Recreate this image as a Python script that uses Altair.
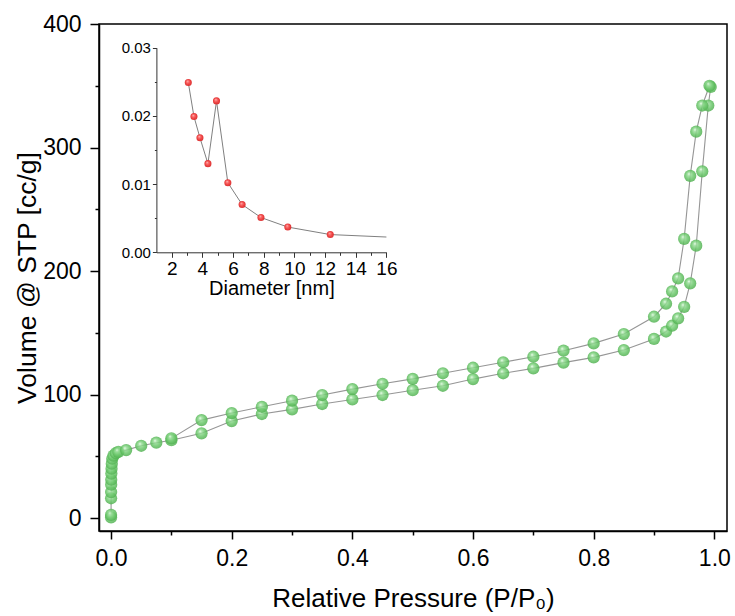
import altair as alt
import pandas as pd

# ---- Isotherm data (relative pressure P/P0, volume cc/g) ----
ads_p = [0.00001, 0.00002, 0.00005, 0.0001, 0.0002, 0.0003, 0.0005, 0.0008, 0.0012, 0.002,
         0.004, 0.008, 0.012, 0.025, 0.05, 0.075, 0.10, 0.15, 0.20, 0.25, 0.30, 0.35, 0.40,
         0.45, 0.50, 0.55, 0.60, 0.65, 0.70, 0.75, 0.80, 0.85, 0.90, 0.92, 0.93, 0.94, 0.95,
         0.96, 0.97, 0.98, 0.99, 0.994]
ads_v = [0.5, 2.5, 16, 21, 27, 31, 36, 40, 44, 48,
         50.5, 52.5, 53.5, 55, 58.5, 61, 63, 68.6, 78.5, 84.2, 88, 92.3, 96,
         99.6, 103.5, 107.1, 112.5, 117.2, 121.2, 125.8, 130.1, 136, 145, 151, 155.7, 161.7, 171,
         190, 220.5, 280.7, 334, 349]

des_p = [0.992, 0.98, 0.97, 0.96, 0.95, 0.94, 0.93, 0.92, 0.90, 0.85, 0.80, 0.75, 0.70,
         0.65, 0.60, 0.55, 0.50, 0.45, 0.40, 0.35, 0.30, 0.25, 0.20, 0.15, 0.10]
des_v = [350, 334, 312.8, 277, 226, 194, 183.5, 173.5, 163, 149, 141.4, 135.5, 130.6,
         126.1, 121.7, 117.2, 112.7, 108.7, 104.4, 99.6, 95, 90.1, 85, 79.3, 64.5]

# ---- Pore size distribution (inset) ----
psd_d = [3.08, 3.45, 3.84, 4.36, 4.92, 5.66, 6.59, 7.82, 9.57, 12.34]
psd_dv = [0.0249, 0.0199, 0.0168, 0.0130, 0.0222, 0.0102, 0.0070, 0.0051, 0.0037, 0.0026]
psd_line_d = psd_d + [16.0]
psd_line_dv = psd_dv + [0.00224]

main_df = pd.DataFrame({
    "p": ads_p + des_p,
    "v": ads_v + des_v,
    "branch": ["Adsorption"] * len(ads_p) + ["Desorption"] * len(des_p),
})
psd_pts = pd.DataFrame({"d": psd_d, "dv": psd_dv})
psd_line = pd.DataFrame({"d": psd_line_d, "dv": psd_line_dv})

FONT = "Liberation Sans"

x_vals = [round(i * 0.1, 1) for i in range(11)]
y_vals = list(range(0, 401, 50))

x_main = alt.X(
    "p:Q",
    scale=alt.Scale(domain=[-0.02, 1.021], nice=False, zero=False),
    axis=alt.Axis(
        title="Relative Pressure (P/P\u2080)", values=x_vals, orient="bottom",
        labelExpr="round(datum.value*10) % 2 == 0 ? format(datum.value, '.1f') : ''",
        tickSize={"condition": {"test": "round(datum.value*10) % 2 == 0", "value": 8}, "value": 4},
        grid=False, domainColor="black", domainWidth=1.5, tickColor="black", tickWidth=1.5,
        labelFont=FONT, labelFontSize=23, labelColor="black", labelPadding=8,
        titleFont=FONT, titleFontSize=26, titleFontWeight="normal", titleColor="black",
        titlePadding=15, labelFlush=False,
    ),
)
y_main = alt.Y(
    "v:Q",
    scale=alt.Scale(domain=[-10.5, 400], nice=False, zero=False),
    axis=alt.Axis(
        title="Volume @ STP [cc/g]", values=y_vals, orient="left",
        labelExpr="datum.value % 100 == 0 ? format(datum.value, 'd') : ''",
        tickSize={"condition": {"test": "datum.value % 100 == 0", "value": 9}, "value": 4},
        grid=False, domainColor="black", domainWidth=1.5, tickColor="black", tickWidth=1.5,
        labelFont=FONT, labelFontSize=23, labelColor="black", labelPadding=9,
        titleFont=FONT, titleFontSize=26.5, titleFontWeight="normal", titleColor="black",
        titlePadding=1, labelFlush=False,
    ),
)

green = alt.RadialGradient(
    gradient="radial",
    stops=[
        alt.GradientStop(color="#f2fff2", offset=0.0),
        alt.GradientStop(color="#9ddf9d", offset=0.22),
        alt.GradientStop(color="#6cc86c", offset=0.6),
        alt.GradientStop(color="#4cab4c", offset=1.0),
    ],
    x1=0.38, y1=0.32, r1=0.0, x2=0.5, y2=0.5, r2=0.55,
)
red = alt.RadialGradient(
    gradient="radial",
    stops=[
        alt.GradientStop(color="#ffd6d6", offset=0.0),
        alt.GradientStop(color="#ff7676", offset=0.22),
        alt.GradientStop(color="#f03c3c", offset=0.6),
        alt.GradientStop(color="#d42626", offset=1.0),
    ],
    x1=0.38, y1=0.32, r1=0.0, x2=0.5, y2=0.5, r2=0.55,
)

main_lines = alt.Chart(main_df).mark_line(color="#969696", strokeWidth=1.1).encode(
    x=x_main, y=y_main, detail="branch:N"
)
main_pts = alt.Chart(main_df).mark_point(
    shape="circle", filled=True, fill=green, size=150, opacity=0.85, strokeWidth=0
).encode(x=x_main, y=y_main)

main = alt.layer(main_lines, main_pts)

# ---- inset ----
ix_vals = list(range(2, 17))
iy_vals = [0, 0.005, 0.01, 0.015, 0.02, 0.025, 0.03]

x_in = alt.X(
    "d:Q",
    scale=alt.Scale(domain=[1, 16], range=[57.4, 287.4], nice=False, zero=False),
    axis=alt.Axis(
        title="Diameter [nm]", values=ix_vals, orient="bottom", offset=-278.7,
        labelExpr="datum.value % 2 == 0 ? format(datum.value, 'd') : ''",
        tickSize={"condition": {"test": "datum.value % 2 == 0", "value": 5}, "value": 3},
        grid=False, domainColor="#333333", domainWidth=1, tickColor="#333333", tickWidth=1,
        labelFont=FONT, labelFontSize=19, labelColor="black", labelPadding=2,
        titleFont=FONT, titleFontSize=20, titleFontWeight="normal", titleColor="black",
        titlePadding=0, labelFlush=False,
    ),
)
y_in = alt.Y(
    "dv:Q",
    scale=alt.Scale(domain=[0, 0.03], range=[228.3, 23.7], nice=False, zero=False),
    axis=alt.Axis(
        title=None, values=iy_vals, orient="left", offset=-57.4,
        labelExpr="round(datum.value*1000) % 10 == 0 ? format(datum.value, '.2f') : ''",
        tickSize={"condition": {"test": "round(datum.value*1000) % 10 == 0", "value": 4}, "value": 2},
        grid=False, domainColor="#333333", domainWidth=1, tickColor="#333333", tickWidth=1,
        labelFont=FONT, labelFontSize=15, labelColor="black", labelPadding=2,
        labelFlush=False,
    ),
)

inset_line = alt.Chart(psd_line).mark_line(color="#808080", strokeWidth=1).encode(x=x_in, y=y_in)
inset_pts = alt.Chart(psd_pts).mark_point(
    shape="circle", filled=True, fill=red, size=50, opacity=0.95, strokeWidth=0
).encode(x=x_in, y=y_in)
inset = alt.layer(inset_line, inset_pts)

chart = (
    alt.layer(main, inset)
    .resolve_scale(x="independent", y="independent")
    .properties(
        width=628, height=507,
        autosize=alt.AutoSizeParams(type="none"),
        padding={"left": 99, "top": 24, "right": 8, "bottom": 85},
        background="white",
    )
    .configure_view(stroke="black", strokeWidth=1.5)
)

chart.save("out.html", embed_options={"renderer": "svg", "actions": False})
